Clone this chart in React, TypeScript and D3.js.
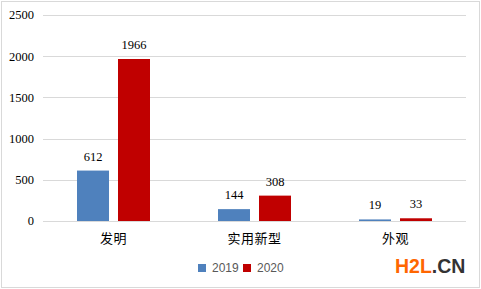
import React from "react";
import * as d3 from "d3";

const categories = ["发明", "实用新型", "外观"];
const series = ["2019", "2020"];
const values2019 = [612, 144, 19];
const values2020 = [1966, 308, 33];
const yTicks = [0, 500, 1000, 1500, 2000, 2500];
const colors = ["#4f81bd", "#c00000"];

const W = 481;
const H = 289;

export default function App() {
  const x = d3.scaleBand<string>().domain(categories).range([43, 466]);
  const y = d3.scaleLinear().domain([0, 2500]).range([221, 15]);
  const bw = 32;
  const gap = 9;
  const allVals = [values2019, values2020];
  const serif = "'Liberation Serif', 'Times New Roman', serif";
  const cjk = "'Noto Sans CJK SC', sans-serif";
  const sans = "'Liberation Sans', Arial, sans-serif";
  return (
    <svg width={W} height={H} style={{ position: "absolute", left: 0, top: 0 }}>
      <rect x={0} y={0} width={W} height={H} fill="#fff" />
      <rect x={1.5} y={1.5} width={W - 3} height={H - 3} fill="none" stroke="#d9d9d9" />
      {yTicks.map((t) => (
        <g key={t}>
          <line x1={43} x2={466} y1={Math.round(y(t)) + 0.5} y2={Math.round(y(t)) + 0.5} stroke="#d9d9d9" />
          <text x={34} y={y(t)} dy="0.35em" textAnchor="end" fontFamily={serif} fontSize={12.5} fill="#000">
            {t}
          </text>
        </g>
      ))}
      {categories.map((c, i) => {
        const cx = (x(c) as number) + x.bandwidth() / 2;
        return (
          <g key={c}>
            {allVals.map((vals, s) => {
              const bx = s === 0 ? cx - gap / 2 - bw : cx + gap / 2;
              const v = vals[i];
              return (
                <g key={s}>
                  <rect x={bx} y={y(v)} width={bw} height={y(0) - y(v)} fill={colors[s]} />
                  <text x={bx + bw / 2} y={y(v) - 10} textAnchor="middle" fontFamily={serif} fontSize={12.5} fill="#000">
                    {v}
                  </text>
                </g>
              );
            })}
            <text x={cx} y={243} textAnchor="middle" fontFamily={cjk} fontSize={13} letterSpacing={0.5} fill="#000">
              {c}
            </text>
          </g>
        );
      })}
      {series.map((s, i) => {
        const lx = i === 0 ? 198 : 243;
        return (
          <g key={s}>
            <rect x={lx} y={264} width={8} height={8} fill={colors[i]} />
            <text x={lx + 14} y={272} fontFamily={sans} fontSize={12} fill="#595959">
              {s}
            </text>
          </g>
        );
      })}
      <text x={395} y={273} fontFamily={sans} fontWeight="bold" fontSize={19.5} fill="#ff6600">
        H2L<tspan fill="#333333">.CN</tspan>
      </text>
    </svg>
  );
}
